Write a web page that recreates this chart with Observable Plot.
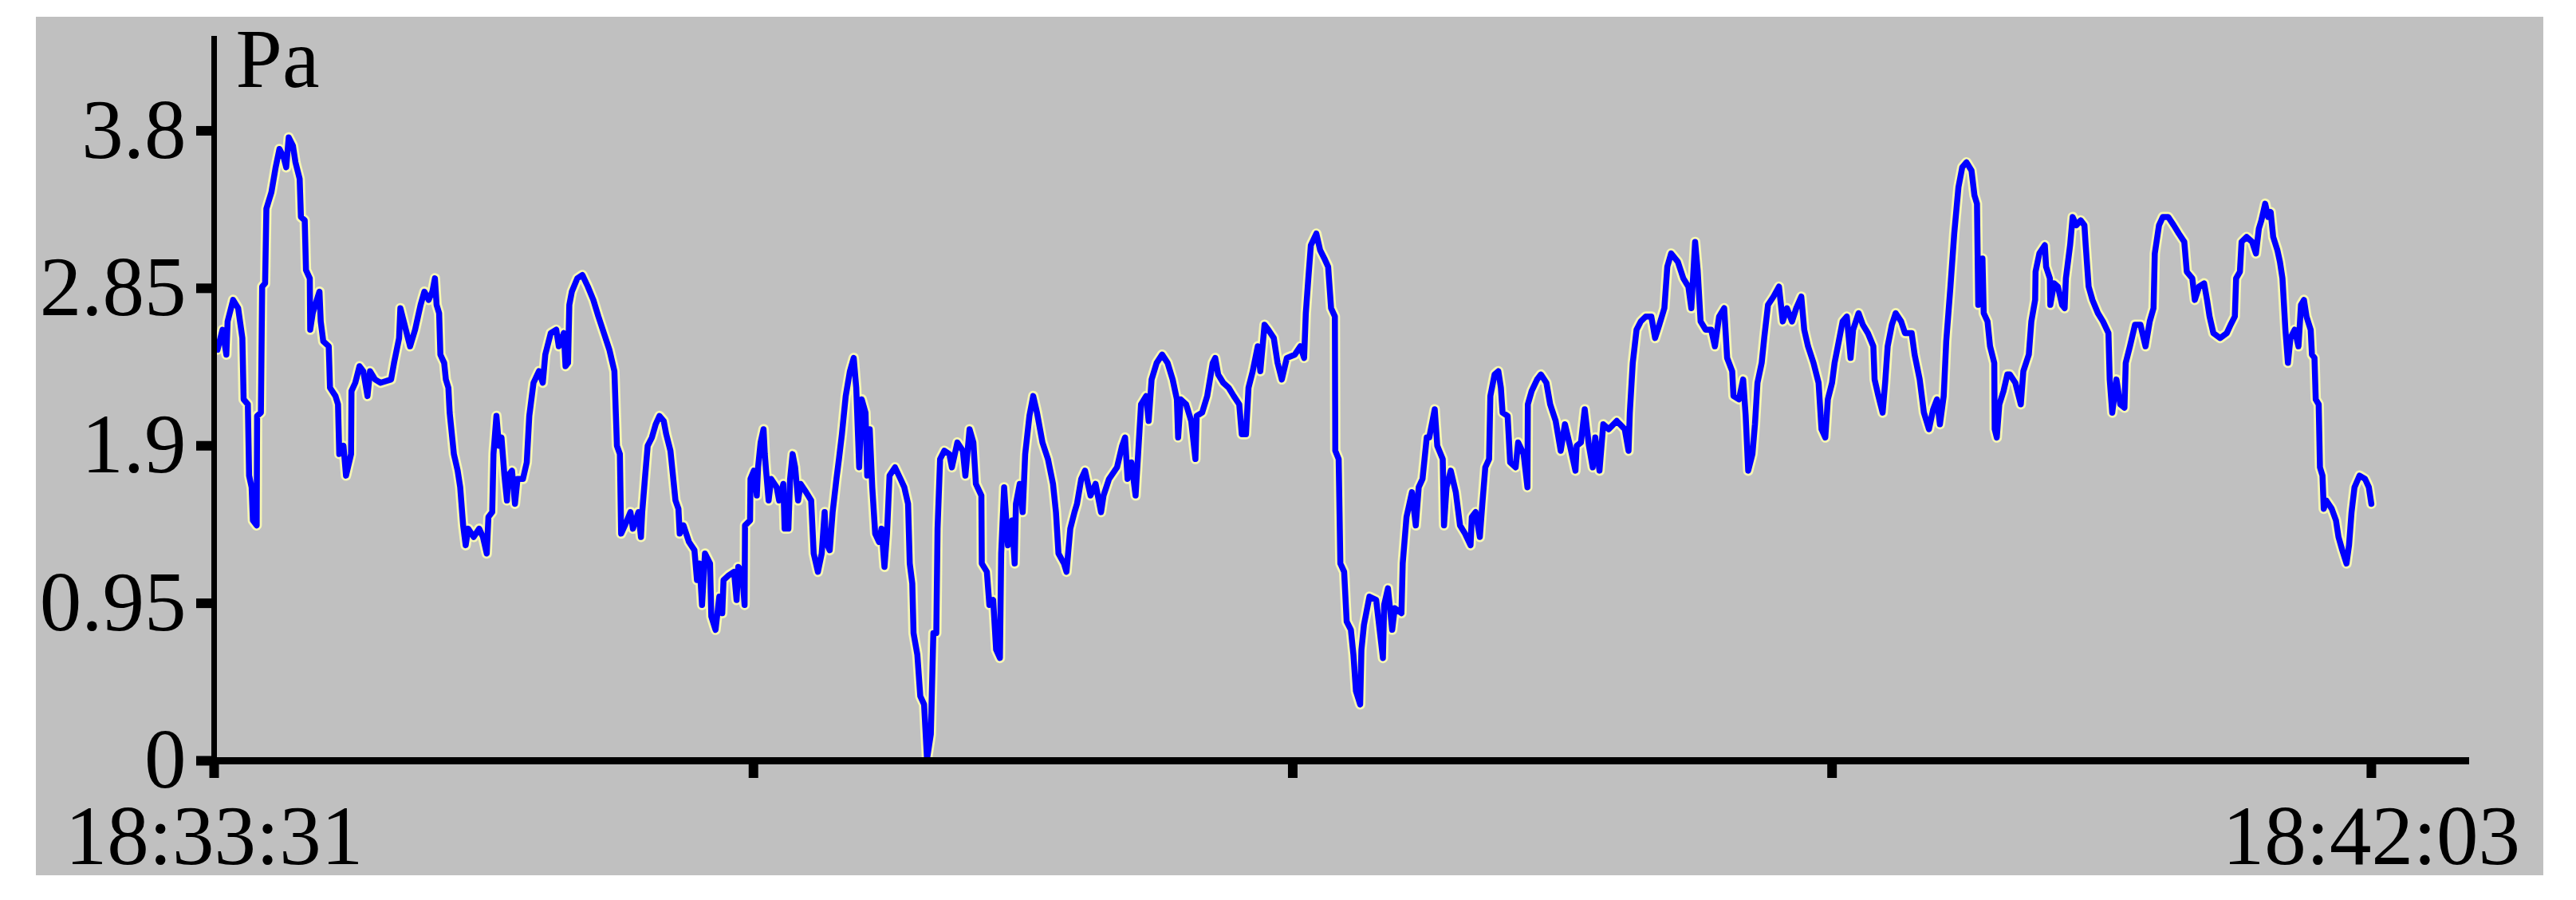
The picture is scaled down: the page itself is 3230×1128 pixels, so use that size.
<!DOCTYPE html>
<html><head><meta charset="utf-8">
<script src="https://cdn.jsdelivr.net/npm/d3@7"></script>
<script src="https://cdn.jsdelivr.net/npm/@observablehq/plot@0.6"></script>
<style>
html,body{margin:0;padding:0;background:#fff;width:3230px;height:1128px;overflow:hidden}
#panel{position:absolute;left:45px;top:21px;width:3144px;height:1076px;background:#c0c0c0}
#chart{position:absolute;left:0;top:0}
</style></head><body>
<div id="panel"></div><div id="chart"></div>
<script>
// seconds after 18:33:31 and pressure (Pa)
const tA = [0.8, 2.0, 2.9, 3.2, 4.5, 5.7, 6.7, 7.0, 8.0, 8.3,
8.9, 9.2, 10.1, 10.2, 11.1, 11.4, 12.1, 12.4, 13.6, 14.6,
15.5, 16.5, 17.1, 17.7, 18.7, 19.3, 20.3, 20.6, 21.5, 21.8,
22.7, 22.8, 23.4, 24.0, 25.0, 25.3, 25.9, 27.2, 27.5, 28.8,
29.4, 29.7, 30.7, 31.3, 32.5, 32.6, 33.5, 34.5, 35.4, 36.4,
37.0, 38.2, 39.5, 42.0, 42.7, 43.9, 44.2, 45.5, 46.5, 47.7,
49.0, 49.9, 50.9, 51.8, 52.4, 52.8, 53.4, 53.7, 54.6, 55.0,
55.6, 55.9, 56.9, 57.8, 58.4, 59.1, 59.7, 60.3, 61.6, 62.9,
63.8, 64.7, 65.1, 66.0, 66.3, 67.0, 67.6, 68.2, 68.9, 69.5,
69.8, 70.7, 71.4, 72.0, 73.3, 74.2, 74.8, 75.8, 77.1, 78.0,
78.6, 79.9, 81.2, 81.8, 83.0, 83.4, 84.0, 84.3];
const pA = [2.48, 2.60, 2.45, 2.65, 2.78, 2.73, 2.55, 2.18, 2.15, 1.72,
1.65, 1.45, 1.42, 2.08, 2.10, 2.86, 2.88, 3.33, 3.43, 3.58,
3.69, 3.64, 3.58, 3.76, 3.71, 3.61, 3.51, 3.28, 3.26, 2.96,
2.91, 2.60, 2.70, 2.75, 2.83, 2.65, 2.53, 2.50, 2.25, 2.20,
2.15, 1.85, 1.90, 1.72, 1.85, 2.23, 2.28, 2.38, 2.35, 2.20,
2.35, 2.30, 2.28, 2.30, 2.40, 2.55, 2.73, 2.60, 2.50, 2.60,
2.75, 2.83, 2.78, 2.83, 2.91, 2.75, 2.70, 2.45, 2.40, 2.30,
2.25, 2.10, 1.85, 1.75, 1.65, 1.42, 1.30, 1.40, 1.35, 1.40,
1.35, 1.25, 1.47, 1.50, 1.85, 2.08, 1.90, 1.95, 1.72, 1.57,
1.72, 1.75, 1.55, 1.70, 1.70, 1.80, 2.08, 2.28, 2.35, 2.28,
2.45, 2.58, 2.60, 2.50, 2.58, 2.38, 2.40, 2.75];

const tB = [84.9, 86.2, 87.4, 88.7, 90.0, 91.2, 92.5, 93.8, 95.0, 95.6,
96.3, 96.6, 97.5, 98.8, 99.4, 100.7, 101.3, 101.6, 102.3, 102.9,
103.9, 104.8, 105.7, 106.7, 107.3, 108.3, 108.9, 109.5, 110.2, 110.5,
111.4, 112.7, 114.0, 114.6, 115.2, 115.8, 116.5, 117.7, 118.0, 119.0,
119.9, 120.6, 120.9, 122.2, 123.4, 124.0, 124.4, 125.3, 125.9, 126.0,
127.2, 127.3, 128.1, 128.8, 129.1, 129.7, 130.4, 130.7, 131.0, 131.6,
132.2, 133.5, 134.1, 135.1, 135.4, 136.3, 136.7, 137.3, 137.9, 138.6,
139.2, 140.5, 141.7, 142.3, 143.3, 144.2, 144.9, 145.2, 146.1, 146.8,
147.7, 148.3, 149.0, 149.9, 150.9, 151.8, 152.4, 153.1, 153.7, 154.6,
155.0, 155.6, 156.2, 156.9, 157.8, 158.4, 159.1, 159.7, 160.3, 161.6,
162.9, 163.8, 164.7, 165.1, 165.7, 166.0, 166.9, 167.6, 168.5, 169.2];
const pB = [2.83, 2.91, 2.93, 2.86, 2.78, 2.68, 2.58, 2.48, 2.35, 1.90,
1.85, 1.37, 1.42, 1.50, 1.40, 1.50, 1.35, 1.50, 1.72, 1.90,
1.95, 2.03, 2.08, 2.05, 1.97, 1.87, 1.72, 1.57, 1.52, 1.37,
1.42, 1.32, 1.27, 1.09, 1.19, 0.94, 1.25, 1.19, 0.87, 0.79,
0.99, 0.89, 1.09, 1.12, 1.14, 0.97, 1.17, 1.14, 0.94, 1.42,
1.45, 1.70, 1.75, 1.60, 1.77, 1.92, 2.00, 1.85, 1.75, 1.57,
1.70, 1.65, 1.57, 1.67, 1.40, 1.40, 1.70, 1.85, 1.77, 1.57,
1.67, 1.62, 1.57, 1.25, 1.14, 1.25, 1.50, 1.32, 1.27, 1.50,
1.70, 1.82, 1.97, 2.20, 2.35, 2.43, 2.25, 1.77, 2.18, 2.10,
1.72, 2.00, 1.65, 1.37, 1.32, 1.40, 1.17, 1.37, 1.72, 1.77,
1.70, 1.65, 1.55, 1.19, 1.07, 0.77, 0.64, 0.39, 0.34, 0.01];

const tC = [170.1, 170.7, 171.4, 171.7, 172.3, 173.3, 174.5, 175.1, 176.4, 177.7,
178.3, 179.3, 180.2, 180.8, 182.1, 182.2, 183.4, 184.0, 184.9, 185.6,
186.5, 186.8, 187.5, 188.4, 189.4, 190.0, 190.3, 191.2, 191.9, 192.5,
193.5, 194.4, 195.3, 196.6, 197.9, 199.1, 199.8, 200.4, 201.7, 202.3,
203.2, 204.2, 204.8, 205.8, 206.7, 208.0, 209.2, 210.5, 211.1, 212.4,
214.3, 215.5, 216.2, 216.8, 217.7, 218.7, 219.3, 220.0, 221.2, 221.8,
222.5, 223.7, 225.0, 226.3, 227.5, 228.5, 228.8, 229.4, 230.7, 231.9,
232.9, 233.2, 234.5, 235.7, 237.0, 237.6, 238.3, 239.5, 240.8, 242.0,
243.3, 243.9, 244.9, 245.5, 246.5, 247.7, 248.3, 249.3, 250.2, 251.5,
252.4, 253.4];
const pC = [0.16, 0.77, 0.77, 1.40, 1.82, 1.87, 1.85, 1.77, 1.92, 1.87,
1.72, 2.00, 1.92, 1.67, 1.60, 1.19, 1.14, 0.94, 0.97, 0.67,
0.62, 1.25, 1.65, 1.30, 1.45, 1.19, 1.55, 1.67, 1.50, 1.85,
2.08, 2.20, 2.10, 1.92, 1.82, 1.67, 1.50, 1.25, 1.19, 1.14,
1.40, 1.50, 1.55, 1.70, 1.75, 1.60, 1.67, 1.50, 1.60, 1.70,
1.77, 1.90, 1.95, 1.70, 1.80, 1.60, 1.85, 2.15, 2.20, 2.05,
2.30, 2.40, 2.45, 2.40, 2.30, 2.18, 1.95, 2.18, 2.15, 2.05,
1.82, 2.08, 2.10, 2.20, 2.40, 2.43, 2.33, 2.28, 2.25, 2.20,
2.15, 1.97, 1.97, 2.25, 2.35, 2.50, 2.35, 2.63, 2.60, 2.55,
2.40, 2.30];

const tD = [254.6, 256.5, 257.8, 258.7, 259.1, 259.7, 260.3, 261.6, 262.5, 263.5,
264.4, 265.1, 266.0, 266.1, 266.9, 267.3, 268.2, 268.8, 269.8, 270.4,
271.0, 272.0, 272.3, 272.9, 274.2, 275.8, 277.4, 277.7, 278.6, 279.6,
280.2, 281.8, 282.1, 283.0, 284.3, 285.2, 285.9, 286.8, 287.8, 288.4,
289.7, 290.3, 291.6, 291.9, 292.5, 293.5, 294.7, 295.7, 296.9, 298.2,
298.5, 299.4, 300.4, 301.0, 301.7, 302.6, 302.9, 303.9, 304.8, 305.4,
305.8, 307.0, 307.6, 308.9, 309.5, 310.8, 311.7, 311.8, 312.7, 314.0,
314.9, 316.2, 317.1, 318.4, 319.6, 320.6, 321.8, 323.1, 323.4, 324.4,
325.3, 326.3, 327.2, 327.8, 328.8, 329.7, 331.0, 332.9, 334.8, 335.7,
336.0, 336.7, 337.6, 338.6, 339.8];
const pD = [2.43, 2.45, 2.50, 2.43, 2.70, 2.91, 3.11, 3.18, 3.08, 3.03,
2.98, 2.73, 2.68, 1.87, 1.82, 1.19, 1.14, 0.84, 0.79, 0.64,
0.42, 0.34, 0.67, 0.82, 0.99, 0.97, 0.62, 0.94, 1.04, 0.79,
0.92, 0.89, 1.19, 1.47, 1.62, 1.42, 1.65, 1.70, 1.95, 1.95,
2.12, 1.90, 1.82, 1.42, 1.65, 1.75, 1.62, 1.42, 1.37, 1.30,
1.47, 1.50, 1.35, 1.55, 1.77, 1.82, 2.20, 2.33, 2.35, 2.25,
2.10, 2.08, 1.80, 1.77, 1.92, 1.85, 1.65, 2.15, 2.23, 2.30,
2.33, 2.28, 2.15, 2.05, 1.87, 2.03, 1.90, 1.75, 1.90, 1.92,
2.12, 1.90, 1.77, 1.95, 1.75, 2.03, 2.00, 2.05, 2.00, 1.87,
2.10, 2.40, 2.60, 2.65, 2.68];

const tE = [341.1, 342.0, 343.0, 344.2, 344.9, 345.8, 347.4, 348.7, 349.9, 350.6,
351.5, 352.1, 352.8, 354.0, 355.3, 356.2, 357.2, 358.4, 359.1, 360.3,
360.6, 361.9, 362.9, 363.5, 364.1, 365.1, 365.7, 366.3, 367.3, 367.9,
368.8, 370.1, 371.4, 372.3, 373.3, 374.5, 375.5, 376.7, 377.4, 378.3,
379.6, 380.8, 381.5, 382.4, 383.0, 384.0, 384.6, 385.6, 386.5, 387.5,
388.4, 389.0, 390.3, 391.3, 392.5, 393.8, 394.1, 395.0, 396.0, 396.6,
397.2, 398.2, 399.1, 400.4, 401.3, 402.9, 403.6, 404.8, 405.8, 407.0,
408.0, 408.9, 409.6, 410.5, 411.1, 412.1, 413.0, 414.0, 414.9, 415.9,
417.1, 417.8, 418.4, 418.7, 419.7, 420.0, 420.9, 421.5, 422.5, 422.6,
423.1, 423.7, 424.7, 425.6];
const pE = [2.68, 2.55, 2.63, 2.73, 2.98, 3.06, 3.01, 2.91, 2.86, 2.73,
3.13, 2.96, 2.65, 2.60, 2.60, 2.50, 2.68, 2.73, 2.43, 2.35,
2.20, 2.18, 2.30, 2.08, 1.75, 1.85, 2.03, 2.28, 2.40, 2.55,
2.75, 2.80, 2.86, 2.65, 2.73, 2.65, 2.73, 2.80, 2.60, 2.50,
2.40, 2.28, 2.00, 1.95, 2.18, 2.28, 2.40, 2.53, 2.65, 2.68,
2.43, 2.60, 2.70, 2.63, 2.58, 2.50, 2.30, 2.20, 2.10, 2.28,
2.50, 2.63, 2.70, 2.65, 2.58, 2.58, 2.45, 2.30, 2.10, 2.00,
2.12, 2.18, 2.03, 2.20, 2.53, 2.86, 3.18, 3.46, 3.58, 3.61,
3.56, 3.41, 3.36, 2.75, 3.03, 2.70, 2.65, 2.50, 2.40, 2.00,
1.95, 2.15, 2.23, 2.33];

const tF = [426.2, 427.5, 428.8, 429.4, 430.7, 431.3, 432.2, 432.3, 433.2, 434.5,
434.8, 435.7, 435.8, 436.7, 437.6, 438.6, 439.2, 439.5, 440.5, 441.1,
442.0, 443.0, 443.9, 444.2, 444.9, 445.8, 447.1, 448.3, 449.6, 449.9,
450.5, 451.5, 452.4, 453.4, 453.7, 454.7, 455.9, 457.2, 458.4, 459.4,
460.3, 460.6, 461.6, 462.5, 463.8, 465.1, 466.3, 467.6, 468.2, 469.5,
470.1, 471.1, 472.3, 473.0, 473.6, 474.5, 476.1, 477.7, 478.6, 479.6,
479.9, 480.8, 481.2, 482.4, 483.7, 484.6, 485.3, 485.9, 486.8, 487.5,
488.1, 488.7, 489.7, 490.3, 490.9, 491.6, 492.2, 492.8, 493.8, 494.7,
495.3, 496.0, 496.6, 497.6, 497.9, 498.5, 498.8, 499.5, 499.8, 500.4,
500.7, 501.3, 502.6, 503.6, 504.2, 505.1, 506.1, 506.7, 507.3, 508.0,
509.2, 510.5, 511.4, 512.0];
const pF = [2.33, 2.28, 2.15, 2.35, 2.45, 2.65, 2.78, 2.95, 3.06, 3.11,
2.98, 2.91, 2.75, 2.88, 2.86, 2.75, 2.73, 2.91, 3.11, 3.28,
3.23, 3.26, 3.23, 3.11, 2.86, 2.78, 2.70, 2.65, 2.58, 2.30,
2.10, 2.30, 2.15, 2.13, 2.40, 2.50, 2.63, 2.63, 2.50, 2.65,
2.73, 3.06, 3.23, 3.28, 3.28, 3.23, 3.18, 3.13, 2.95, 2.91,
2.78, 2.86, 2.88, 2.78, 2.68, 2.58, 2.55, 2.58, 2.63, 2.68,
2.91, 2.95, 3.13, 3.16, 3.13, 3.06, 3.21, 3.26, 3.36, 3.28,
3.31, 3.16, 3.08, 3.01, 2.91, 2.60, 2.40, 2.55, 2.60, 2.50,
2.75, 2.78, 2.68, 2.60, 2.45, 2.43, 2.18, 2.15, 1.77, 1.72,
1.52, 1.57, 1.52, 1.45, 1.35, 1.27, 1.19, 1.30, 1.50, 1.65,
1.72, 1.70, 1.65, 1.55];

const yTicks = [0, 0.95, 1.9, 2.85, 3.8];
const yTickLabels = ["0", "0.95", "1.9", "2.85", "3.8"];
const xTicks = [0, 128, 256, 384, 512];
const xTickLabels = ["18:33:31", "", "", "", "18:42:03"];
const unitLabel = "Pa";

const segments = [[tA, pA], [tB, pB], [tC, pC], [tD, pD], [tE, pE], [tF, pF]];
const data = [];
for (const [ts, ps] of segments) {
  const n = Math.min(ts.length, ps.length);
  for (let i = 0; i < n; i++) data.push({t: ts[i], p: ps[i]});
}

const font = "'Liberation Serif','Times New Roman',serif";
const chart = Plot.plot({
  width: 3230,
  height: 1128,
  marginLeft: 268,
  marginRight: 134,
  marginTop: 45,
  marginBottom: 175,
  style: {background: "transparent", fontFamily: font, color: "#000", overflow: "visible"},
  x: {type: "linear", domain: [0, 535.3], label: null},
  y: {type: "linear", domain: [0, 4.37], label: null},
  marks: [
    Plot.line(data, {x: "t", y: "p", stroke: "#f6f6b4", strokeWidth: 13, strokeLinejoin: "round", strokeLinecap: "round"}),
    Plot.line(data, {x: "t", y: "p", stroke: "#0000ff", strokeWidth: 7.5, strokeLinejoin: "round"}),
    Plot.ruleX([0], {stroke: "#000", strokeWidth: 7}),
    Plot.ruleY([0], {stroke: "#000", strokeWidth: 9}),
    Plot.axisY({ticks: yTicks, tickFormat: d => yTickLabels[yTicks.indexOf(d)], label: null, tickSize: 22, tickPadding: 13, strokeWidth: 12, fontSize: 105}),
    Plot.axisX({ticks: xTicks, tickFormat: d => xTickLabels[xTicks.indexOf(d)], label: null, tickSize: 22, tickPadding: 33, strokeWidth: 12, fontSize: 105}),
    Plot.text([unitLabel], {frameAnchor: "top-left", dx: 27, dy: 63, lineAnchor: "bottom", textAnchor: "start", fontSize: 105})
  ]
});
document.getElementById("chart").appendChild(chart);
</script>
</body></html>
